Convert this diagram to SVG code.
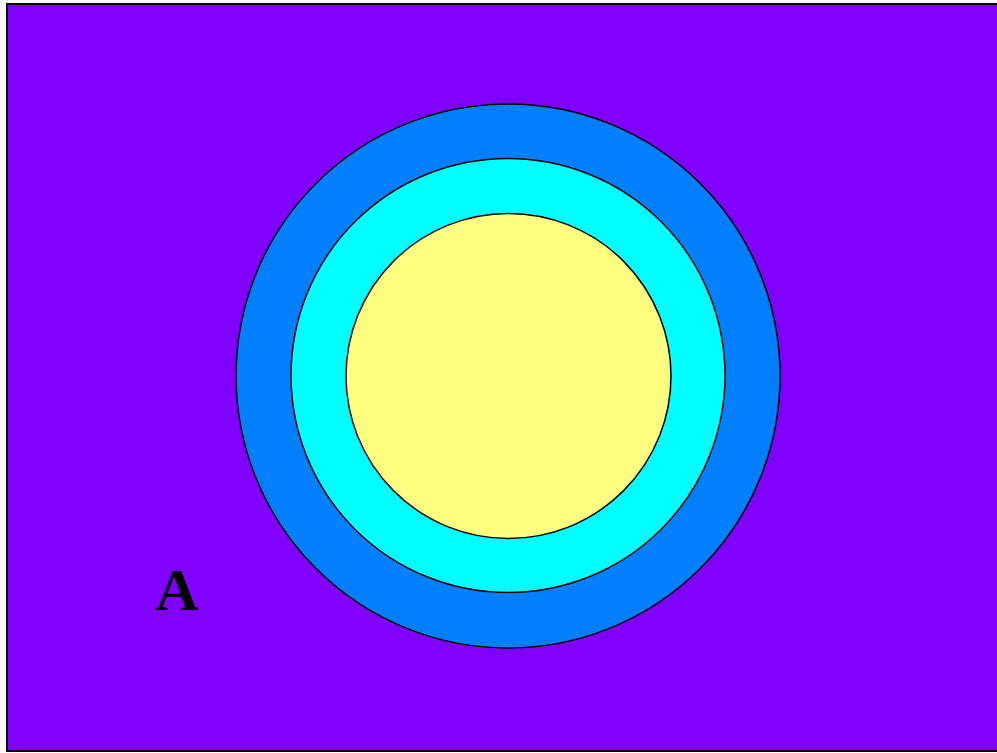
<svg xmlns="http://www.w3.org/2000/svg" width="997" height="753" viewBox="0 0 997 753">
  <style>
    .ring { stroke: #000; stroke-width: 1.5; }
    .label { font-family: "Liberation Serif", "Times New Roman", serif; font-weight: bold; font-size: 60px; fill: #000; }
  </style>
  <rect x="0" y="0" width="997" height="753" fill="#ffffff"/>
  <rect id="frame" x="7" y="4" width="1000" height="747" fill="#8000ff" stroke="#000" stroke-width="2"/>
  <g id="outer-ring">
    <circle class="ring" cx="508" cy="376" r="272" fill="#0080ff"/>
  </g>
  <g id="middle-ring">
    <circle class="ring" cx="508" cy="375.5" r="217" fill="#00ffff"/>
  </g>
  <g id="inner-disc">
    <circle class="ring" cx="508.5" cy="376" r="162.5" fill="#ffff80"/>
  </g>
  <g id="label-A">
    <text class="label" x="177" y="610" text-anchor="middle">A</text>
  </g>
</svg>
